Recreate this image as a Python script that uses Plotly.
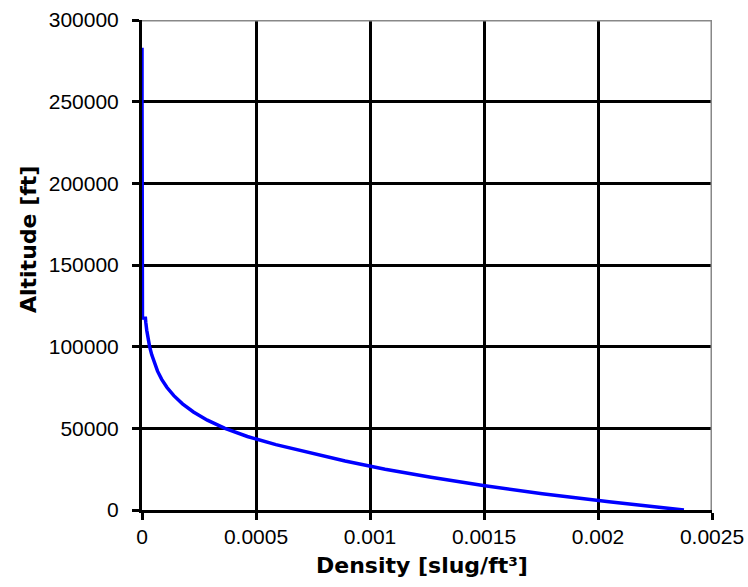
import plotly.graph_objects as go

# Standard-atmosphere density profile (altitude in ft, density in slug/ft^3)
altitude_ft = [
    0, 5000, 10000, 15000, 20000, 25000, 30000, 35000, 36089, 40000,
    45000, 50000, 55000, 60000, 65000, 70000, 75000, 80000, 85000, 90000,
    95000, 100000, 105000, 110000, 115000, 117400,
    117500, 130000, 150000, 175000, 200000, 225000, 250000, 283000,
]
density_slug_ft3 = [
    2.3769e-3, 2.0482e-3, 1.7556e-3, 1.4962e-3, 1.2673e-3, 1.0663e-3,
    8.9068e-4, 7.3820e-4, 7.0612e-4, 5.8727e-4,
    4.6227e-4, 3.6392e-4, 2.8652e-4, 2.2561e-4, 1.7767e-4, 1.3960e-4,
    1.0968e-4, 8.6397e-5, 6.8216e-5, 5.3981e-5,
    4.2815e-5, 3.3400e-5, 2.6300e-5, 2.0800e-5, 1.6500e-5, 1.5000e-5,
    2.0e-6, 1.5e-6, 1.0e-6, 6.0e-7, 3.0e-7, 1.5e-7, 7.0e-8, 2.0e-8,
]

x_ticks = [0, 0.0005, 0.001, 0.0015, 0.002, 0.0025]
x_tick_labels = ["0", "0.0005", "0.001", "0.0015", "0.002", "0.0025"]
y_ticks = [0, 50000, 100000, 150000, 200000, 250000, 300000]
y_tick_labels = ["0", "50000", "100000", "150000", "200000", "250000", "300000"]

x_title = "Density [slug/ft³]"
y_title = "Altitude [ft]"

tick_font = dict(family="Liberation Sans, Arial, sans-serif", size=21, color="black")
title_font = dict(family="DejaVu Sans, sans-serif", size=22, color="black", weight="bold")

fig = go.Figure()
fig.add_trace(go.Scatter(
    x=density_slug_ft3, y=altitude_ft, mode="lines",
    line=dict(color="#0000FF", width=3.5),
    showlegend=False, hoverinfo="skip",
))

fig.update_xaxes(
    range=[0, 0.0025], tickvals=x_ticks, ticktext=x_tick_labels,
    showgrid=True, gridcolor="black", gridwidth=2.5,
    showline=True, linecolor="black", linewidth=3,
    ticks="outside", ticklen=7, tickwidth=2.5, tickcolor="black",
    tickfont=tick_font, zeroline=False, ticklabelstandoff=-1,
    automargin=False,
)
fig.update_yaxes(
    range=[0, 300000], tickvals=y_ticks, ticktext=y_tick_labels,
    showgrid=True, gridcolor="black", gridwidth=2.5,
    showline=True, linecolor="black", linewidth=3,
    ticks="outside", ticklen=7, tickwidth=2.5, tickcolor="black",
    tickfont=tick_font, zeroline=False, ticklabelstandoff=9,
    automargin=False,
)

# Gray frame on the top and right edges of the plot area
fig.add_shape(type="line", xref="x", yref="y", x0=0, x1=0.0025, y0=300000, y1=300000,
              line=dict(color="#888888", width=3), layer="above")
fig.add_shape(type="line", xref="x", yref="y", x0=0.0025, x1=0.0025, y0=0, y1=300000,
              line=dict(color="#888888", width=3), layer="above")

fig.add_annotation(text=x_title, xref="paper", yref="paper", x=0.4915, y=0,
                   yshift=-55, xanchor="center", yanchor="middle",
                   showarrow=False, font=title_font)
fig.add_annotation(text=y_title, xref="paper", yref="paper", x=0, y=0.5,
                   xshift=-114, yshift=25, xanchor="center", yanchor="middle",
                   textangle=-90, showarrow=False, font=title_font)

fig.update_layout(
    width=748, height=587,
    margin=dict(l=142, r=36, t=20, b=77),
    paper_bgcolor="white", plot_bgcolor="white",
)

fig.write_html("out.html")
